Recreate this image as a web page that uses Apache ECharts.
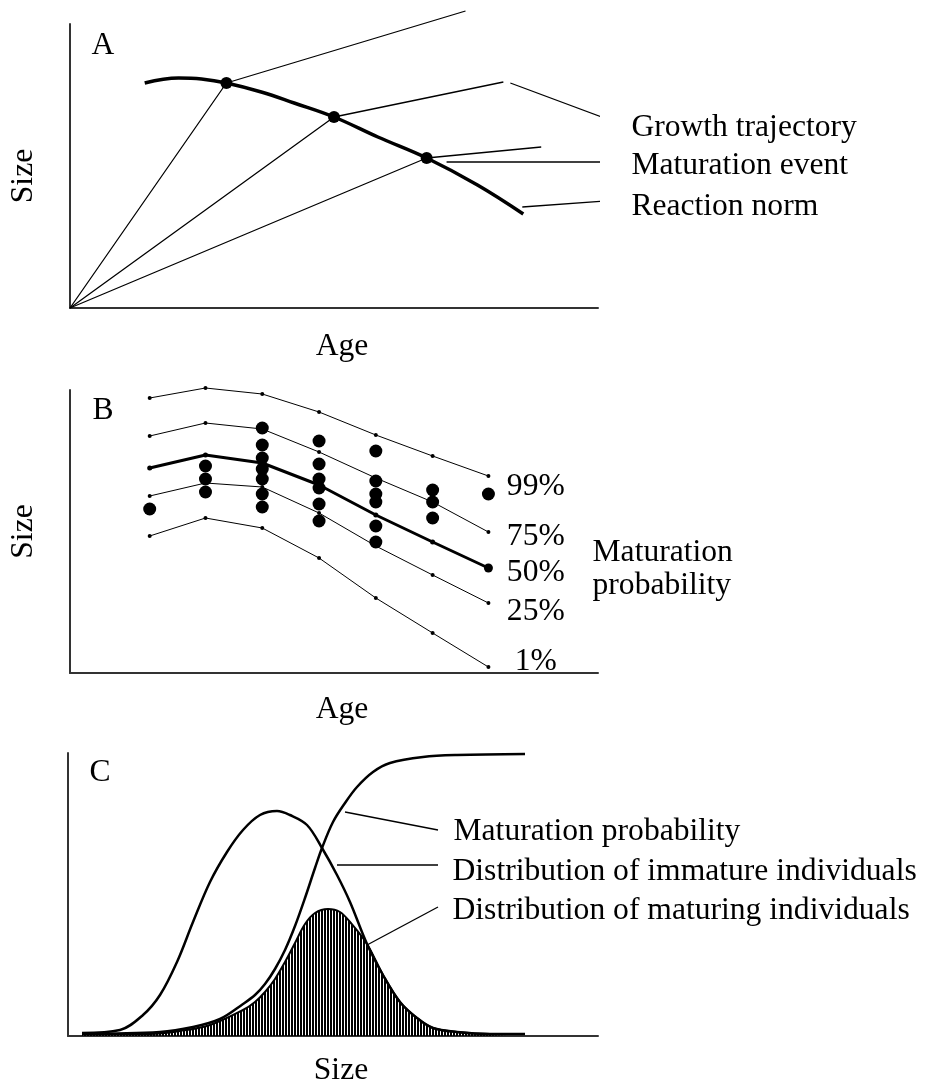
<!DOCTYPE html>
<html><head><meta charset="utf-8">
<script src="https://cdn.jsdelivr.net/npm/echarts/dist/echarts.min.js"></script>
<style>html,body{margin:0;padding:0;background:#fff}#chart{width:925px;height:1088px}</style>
</head><body><div id="chart"></div>
<script>
// ---------- Panel A (age / size, arbitrary units) ----------
const trajectory1 = [[0,0],[157,225],[397,297]];
const trajectory2 = [[0,0],[265,191],[435,226]];
const trajectory3 = [[0,0],[358,150],[473,161]];
const reactionNorm = [[75,225],[109,230],[132,229],[157,225],[192,216],[225,205],[265,191],[309,171],[358,150],[409,123],[455,94]];
const maturationEvents = [[157,225],[265,191],[358,150]];
const textsA = ['Growth trajectory','Maturation event','Reaction norm'];
const leadersA = [[[442,225],[550,185]], [[378,146],[552,146]], [[454,101],[550,108]]];

// ---------- Panel B ----------
const ages = [80,136,193,250,307,364,420];
const p99 = [275,285,279,261,238,217,197];
const p75 = [237,250,244,221,195,171,141];
const p50 = [205,218,210,188,158,131,105];
const p25 = [177,190,186,160,127,98,70];
const p01 = [137,155,145,115,75,40,6];
const maturedSizes = [[164],[207,194,181],[245,228,215,204,194,179,166],[232,209,194,185,169,152],[222,192,179,171,147,131],[183,171,155],[179]];
const percentLabels = ['99%','75%','50%','25%','1%'];
const textsB = ['Maturation','probability'];

// ---------- Panel C ----------
const immature = [[14,3],[52,6],[75,21],[92,41],[109,74],[125,114],[142,154],[159,184],[175,206],[192,221],[209,225],[222,221],[239,211],[254,188],[269,161],[282,134],[299,92],[315,61],[332,34],[349,18],[365,8],[389,4],[422,2],[457,2]];
const maturing = [[14,2],[82,2],[112,5],[142,11],[175,26],[187,34],[197,44],[207,57],[217,74],[227,93],[237,112],[247,123],[260,127],[272,124],[282,114],[299,92],[315,61],[332,34],[349,18],[365,8],[389,4],[422,2],[457,2]];
const maturationProb = [[14,2],[92,4],[125,9],[152,17],[175,32],[187,41],[197,52],[207,67],[217,86],[227,110],[237,138],[247,168],[254,188],[265,214],[277,233],[289,249],[305,264],[322,273],[355,279],[389,281],[457,282]];
const textsC = ['Maturation probability','Distribution of immature individuals','Distribution of maturing individuals'];
const leadersC = [[[277,224],[370,206]], [[269,171],[370,171]], [[299,91],[370,129]]];
const panelLetters = ['A','B','C'];

// ---------- styling / layout ----------
const FONT = 'Liberation Serif', FS = 31.6, INK = '#000', AXIS = '#333';
const gridTops = [24, 390, 753], gridHeights = [284, 283, 283];
const xNameGaps = [23, 21, 19];

function xAxisOf(i, name) {
  return {gridIndex:i, type:'value', min:0, max:530,
    axisLine:{show:true, onZero:false, lineStyle:{color:AXIS, width:2}},
    axisTick:{show:false}, axisLabel:{show:false}, splitLine:{show:false},
    name:name, nameLocation:'middle', nameGap:xNameGaps[i],
    nameTextStyle:{fontFamily:FONT, fontSize:FS, color:INK, padding:[0,0,0,16]}};
}
function yAxisOf(i, name, pad) {
  return {gridIndex:i, type:'value', min:0, max:gridHeights[i],
    axisLine:{show:true, onZero:false, lineStyle:{color:AXIS, width:2}},
    axisTick:{show:false}, axisLabel:{show:false}, splitLine:{show:false},
    name:name, nameLocation:'middle', nameGap:30,
    nameTextStyle:{fontFamily:FONT, fontSize:FS, color:INK, padding:pad}};
}
function line(i, data, width, extra) {
  return Object.assign({type:'line', xAxisIndex:i, yAxisIndex:i, data:data,
    symbol:'none', showSymbol:false, clip:false, silent:true,
    lineStyle:{color:INK, width:width, opacity:1}, itemStyle:{color:INK, opacity:1}}, extra || {});
}
function texts(i, items) {
  return {type:'scatter', xAxisIndex:i, yAxisIndex:i, symbolSize:1, clip:false, silent:true,
    itemStyle:{color:'rgba(0,0,0,0)', opacity:1},
    data: items.map(t => ({name:t[0], value:[t[1], t[2]]})),
    label:{show:true, position:'right', distance:0, formatter:'{b}',
      fontFamily:FONT, fontSize:FS, color:INK, opacity:1}};
}

// hatch pattern (vertical stripes)
const pc = document.createElement('canvas'); pc.width = 3; pc.height = 3;
const pg = pc.getContext('2d'); pg.fillStyle = '#000'; pg.fillRect(0,0,2,3);

const series = [];
// Panel A
[trajectory1, trajectory2, trajectory3].forEach(t => series.push(line(0, t, 1.3)));
series.push(line(0, reactionNorm, 3.5, {smooth:0.4}));
series.push({type:'scatter', xAxisIndex:0, yAxisIndex:0, data:maturationEvents, symbolSize:12, itemStyle:{color:INK, opacity:1}, silent:true});
leadersA.forEach(l => series.push(line(0, l, 1.3)));
series.push(texts(0, [[textsA[0],563,180],[textsA[1],563,142],[textsA[2],563,101],[panelLetters[0],21,262]]));

// Panel B
const pct = [p99, p75, p50, p25, p01];
pct.forEach((p, k) => {
  const thick = (k === 2);
  series.push(line(1, ages.map((a, j) => [a, p[j]]), thick ? 3 : 1, {
    symbol:'circle', showSymbol:true,
    symbolSize: thick ? ((v, prm) => prm.dataIndex === ages.length - 1 ? 9 : 5) : 4
  }));
});
const dotsB = [];
maturedSizes.forEach((col, j) => col.forEach(s => dotsB.push([ages[j], s])));
series.push({type:'scatter', xAxisIndex:1, yAxisIndex:1, data:dotsB, symbolSize:13, itemStyle:{color:INK, opacity:1}, silent:true});
series.push(texts(1, [[percentLabels[0],438,186],[percentLabels[1],438,136],[percentLabels[2],438,100],[percentLabels[3],438,61],[percentLabels[4],446,11],
  [textsB[0],524,120],[textsB[1],524,87],[panelLetters[1],22,262]]));

// Panel C
series.push(line(2, maturing, 2, {smooth:0.35, areaStyle:{color:{image:pc, repeat:'repeat'}, opacity:1}}));
series.push(line(2, maturationProb, 2.5, {smooth:0.35}));
series.push(line(2, immature, 2.5, {smooth:0.35}));
leadersC.forEach(l => series.push(line(2, l, 1.3)));
series.push(texts(2, [[textsC[0],385,204],[textsC[1],384,164],[textsC[2],384,125],[panelLetters[2],21,263]]));

const chart = echarts.init(document.getElementById('chart'));
chart.setOption({
  animation:false,
  backgroundColor:'#fff',
  grid: gridTops.map((t, i) => ({left:68, width:530, top:t, height:gridHeights[i]})),
  xAxis: [xAxisOf(0,'Age'), xAxisOf(1,'Age'), xAxisOf(2,'Size')],
  yAxis: [yAxisOf(0,'Size',[0,20,0,0]), yAxisOf(1,'Size',[0,0,0,0]), yAxisOf(2,'',[0,0,0,0])],
  series: series
});
</script></body></html>
